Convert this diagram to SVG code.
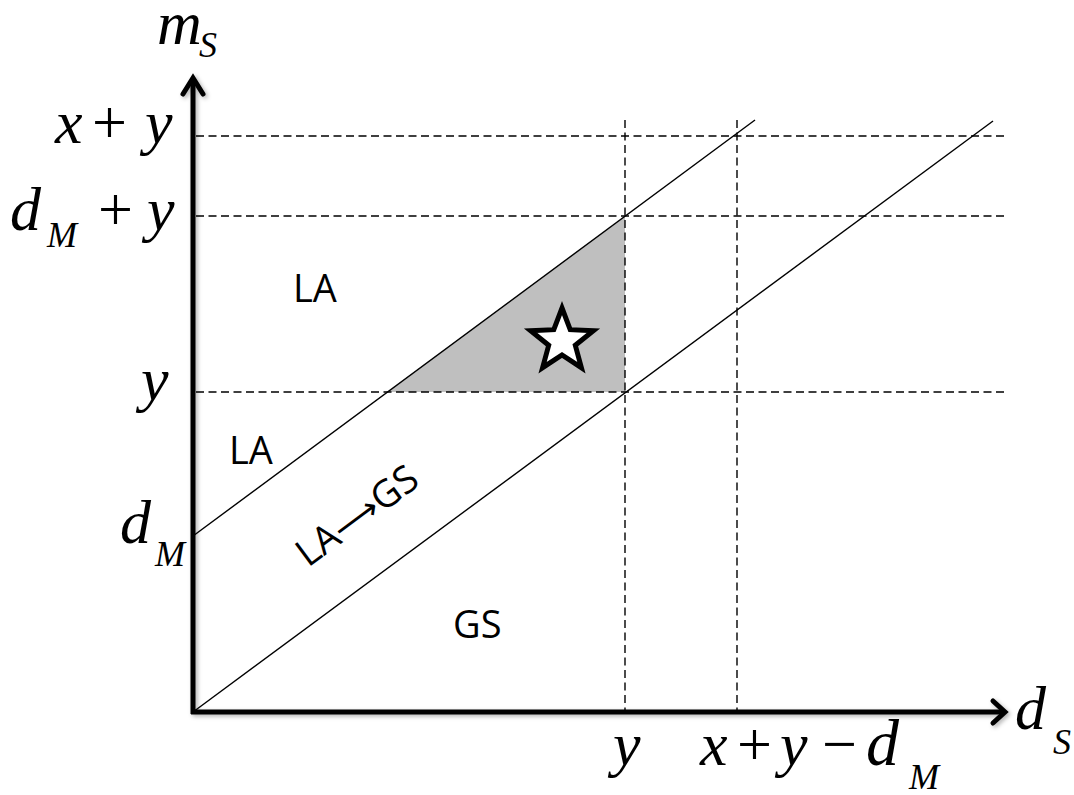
<svg xmlns="http://www.w3.org/2000/svg" width="1074" height="795" viewBox="0 0 1074 795">
<defs>
<style>
.math{font-family:"Liberation Serif","Times New Roman",serif;font-style:italic;font-size:62px;fill:#000}
.op{font-style:normal}
.sub{font-size:36px}
.lbl{font-family:"Open Sans","DejaVu Sans",sans-serif;font-size:38px;fill:#000}
.arr{font-family:"DejaVu Sans",sans-serif;font-weight:normal}
.dash{stroke:#000;stroke-width:1.4;stroke-dasharray:8 4.5;fill:none}
.diag{stroke:#000;stroke-width:1.4;fill:none}
.axis{stroke:#000;stroke-width:5;fill:none;stroke-linecap:butt}
.head{stroke:#000;stroke-width:5;fill:none;stroke-linejoin:miter;stroke-linecap:round}
</style>
<filter id="sh" x="-10%" y="-10%" width="120%" height="120%">
<feDropShadow dx="2" dy="2" stdDeviation="2" flood-color="#000" flood-opacity="0.3"/>
</filter>
</defs>
<rect width="1074" height="795" fill="#fff"/>
<g id="region-shaded">
<polygon points="387,392 625,216 625,392" fill="#bfbfbf"/>
</g>
<g id="connectors">
<line class="dash" x1="196" y1="136" x2="1007" y2="136"/>
<line class="dash" x1="196" y1="216" x2="1007" y2="216"/>
<line class="dash" x1="196" y1="392" x2="1007" y2="392"/>
<line class="dash" x1="625" y1="120" x2="625" y2="710"/>
<line class="dash" x1="737" y1="120" x2="737" y2="710"/>
<line class="diag" x1="193" y1="536" x2="755" y2="120"/>
<line class="diag" x1="193" y1="712" x2="993" y2="121"/>
</g>
<g id="axes" filter="url(#sh)">
<line class="axis" x1="193" y1="714" x2="193" y2="80"/>
<polyline class="head" points="183,94 193,78 203,94"/>
<line class="axis" x1="191" y1="712" x2="1003" y2="712"/>
<polyline class="head" points="993,701 1005,712 993,723"/>
</g>
<g id="star">
<polygon points="562,308 570.2,329.7 593.4,330.8 575.3,345.3 581.4,367.7 562,355 542.6,367.7 548.7,345.3 530.6,330.8 553.8,329.7" fill="#fff" stroke="#000" stroke-width="5" stroke-linejoin="miter"/>
</g>
<g id="label-ms">
<text class="math"><tspan x="157" y="44">m</tspan><tspan class="sub" x="199" y="57">S</tspan></text>
</g>
<g id="label-xy">
<text class="math"><tspan x="55" y="143">x</tspan><tspan class="op" x="92" y="143">+</tspan><tspan x="145" y="143">y</tspan></text>
</g>
<g id="label-dmy">
<text class="math"><tspan x="10" y="230">d</tspan><tspan class="sub" x="47" y="247">M</tspan><tspan class="op" x="98" y="230">+</tspan><tspan x="147" y="230">y</tspan></text>
</g>
<g id="label-y-left">
<text class="math" x="141" y="400">y</text>
</g>
<g id="label-dm">
<text class="math"><tspan x="120" y="543">d</tspan><tspan class="sub" x="155" y="566">M</tspan></text>
</g>
<g id="label-y-bottom">
<text class="math" x="613" y="765">y</text>
</g>
<g id="label-xydm">
<text class="math"><tspan x="700" y="765">x</tspan><tspan class="op" x="737" y="765">+</tspan><tspan x="780" y="765">y</tspan><tspan class="op" x="822" y="765">−</tspan><tspan x="866" y="765" style="font-size:66px">d</tspan><tspan class="sub" x="909" y="789">M</tspan></text>
</g>
<g id="label-ds">
<text class="math"><tspan x="1015" y="729">d</tspan><tspan class="sub" x="1053" y="754">S</tspan></text>
</g>
<g id="label-la1"><text class="lbl" x="293" y="302">LA</text></g>
<g id="label-la2"><text class="lbl" x="229" y="464">LA</text></g>
<g id="label-gs"><text class="lbl" x="453" y="638">GS</text></g>
<g id="label-lags"><text class="lbl" x="308" y="568" transform="rotate(-36.5 308 568)">LA<tspan class="arr" font-size="34">⟶</tspan>GS</text></g>
</svg>
